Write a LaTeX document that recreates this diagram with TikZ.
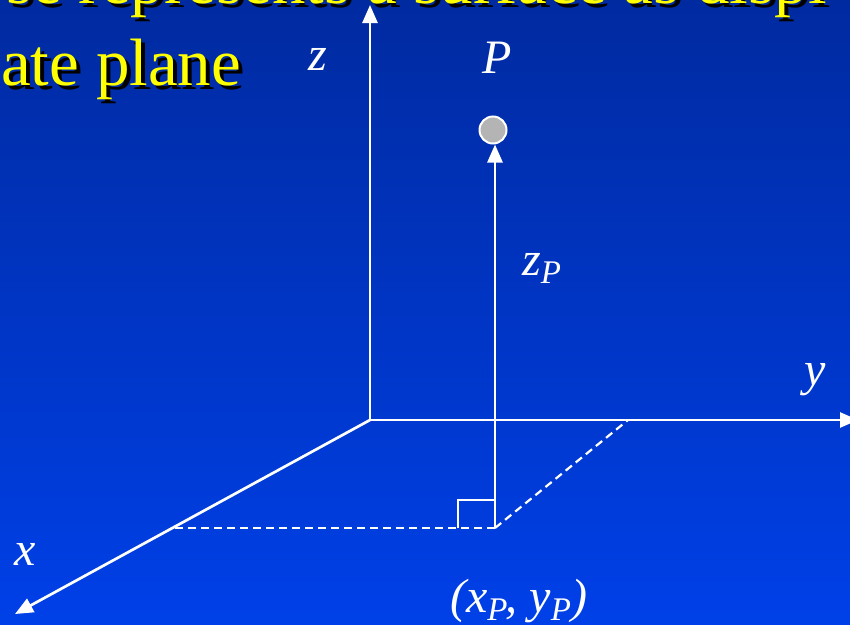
\documentclass[tikz,border=0pt]{standalone}
\usepackage{fontspec}
\setmainfont{Liberation Serif}
\usetikzlibrary{arrows.meta}
\definecolor{bgtop}{RGB}{0,42,160}
\definecolor{bgbot}{RGB}{0,64,232}
\definecolor{titleyellow}{RGB}{255,255,0}
\definecolor{ptgray}{RGB}{180,180,180}
\newcommand\lblsub[1]{\raisebox{-0.18em}{\fontsize{33}{33}\selectfont #1}}
\begin{document}
\begin{tikzpicture}[x=1pt,y=-1pt,
  axis/.style={draw=white, line width=2.7pt, -{Triangle[width=15pt,length=18pt]}},
  guide/.style={draw=white, line width=2.2pt, dash pattern=on 8pt off 5pt},
  rightmark/.style={draw=white, line width=2.2pt},
  lbl/.style={text=white, font=\fontsize{48}{48}\selectfont\itshape, inner sep=0pt, anchor=base},
  titletext/.style={font=\fontsize{67}{80}\selectfont, inner sep=0pt, anchor=base west}]
\useasboundingbox (0,0) rectangle (850,624);
\shade[top color=bgtop, bottom color=bgbot] (0,0) rectangle (850,624);
\begin{scope}
\clip (0,0) rectangle (850,624);
% title (cut off)
\node[titletext, text=black] (t1s) at (10,7) {se represents a surface as displ};
\node[titletext, text=titleyellow] (t1) at (6,3) {se represents a surface as displ};
\node[titletext, text=black] (t2s) at (5,89) {ate plane};
\node[titletext, text=titleyellow] (t2) at (1,85) {ate plane};
% coordinates
\coordinate (O) at (370,420);
\coordinate (ztip) at (370,5);
\coordinate (ytip) at (858,420);
\coordinate (xtip) at (15,614);
\coordinate (Q) at (495,528);
\coordinate (xfoot) at (173,528);
\coordinate (yfoot) at (628,420);
\coordinate (ra1) at (458,528);
\coordinate (ra2) at (458,500);
\coordinate (ra3) at (495,500);
% axes
\draw[axis] (O) -- (ztip);
\draw[axis] (O) -- (ytip);
\draw[axis] (O) -- (xtip);
% guides
\draw[guide] (Q) -- (xfoot);
\draw[guide] (Q) -- (yfoot);
\draw[rightmark] (ra1) -- (ra2) -- (ra3);
% point
\node[circle, fill=ptgray, draw=white, line width=2pt, minimum size=27pt, inner sep=0pt] (P) at (493,130) {};
\draw[axis] (Q) -- (Q |- P.south);
% labels
\node[lbl] (zl) at (318,70) {z};
\node[lbl] (pl) at (497,73) {P};
\node[lbl] (yl) at (815,385) {y};
\node[lbl] (xl) at (25,565) {x};
\node[lbl, anchor=base west] (zpl) at (522,275) {z\lblsub{P}};
\node[lbl, anchor=base west] (qpl) at (450,612) {(x\lblsub{P}\kern-2pt, y\lblsub{P})};
\end{scope}
\end{tikzpicture}
\end{document}
